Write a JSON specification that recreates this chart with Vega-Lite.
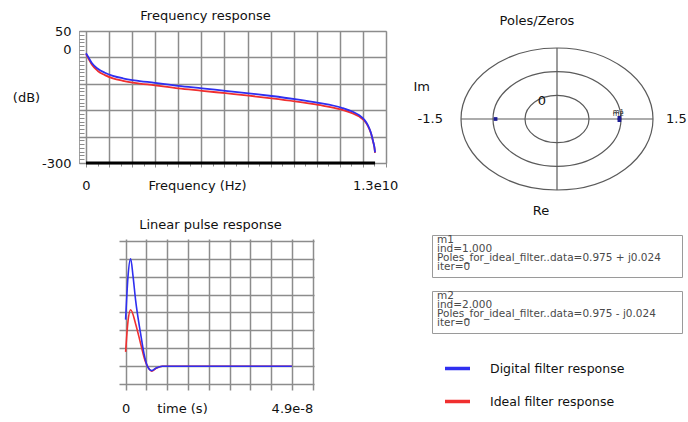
{
  "$schema": "https://vega.github.io/schema/vega-lite/v6.json",
  "background": "white",
  "padding": {"left": 11, "top": 9, "right": 0, "bottom": 0},
  "config": {
    "font": "DejaVu Sans",
    "view": {"stroke": null},
    "axis": {
      "labelFont": "DejaVu Sans", "labelFontSize": 13, "labelColor": "#111",
      "titleFont": "DejaVu Sans", "titleFontSize": 13, "titleFontWeight": "normal", "titleColor": "#111",
      "labelFlush": false, "labelOverlap": false,
      "gridColor": "#8c8c8c", "gridWidth": 1.5, "gridOpacity": 1,
      "tickColor": "#8c8c8c", "domain": false
    },
    "title": {"font": "DejaVu Sans", "fontSize": 13, "fontWeight": "normal", "color": "#111"}
  },
  "datasets": {
    "freqFloor": [
      {"frequency": 0, "magnitude": -300},
      {"frequency": 13000000000, "magnitude": -300}
    ],
    "freqDigital": [
      {"frequency": 0, "magnitude": -9, "series": "Digital filter response"},
      {"frequency": 135000000, "magnitude": -22.4, "series": "Digital filter response"},
      {"frequency": 270000000, "magnitude": -35.6, "series": "Digital filter response"},
      {"frequency": 530000000, "magnitude": -50.2, "series": "Digital filter response"},
      {"frequency": 850000000, "magnitude": -60.8, "series": "Digital filter response"},
      {"frequency": 1210000000, "magnitude": -68.8, "series": "Digital filter response"},
      {"frequency": 1660000000, "magnitude": -75.4, "series": "Digital filter response"},
      {"frequency": 2170000000, "magnitude": -80.7, "series": "Digital filter response"},
      {"frequency": 3100000000, "magnitude": -87.3, "series": "Digital filter response"},
      {"frequency": 4150000000, "magnitude": -95.3, "series": "Digital filter response"},
      {"frequency": 5220000000, "magnitude": -101.9, "series": "Digital filter response"},
      {"frequency": 6270000000, "magnitude": -108.6, "series": "Digital filter response"},
      {"frequency": 7320000000, "magnitude": -115.2, "series": "Digital filter response"},
      {"frequency": 8350000000, "magnitude": -122.3, "series": "Digital filter response"},
      {"frequency": 9400000000, "magnitude": -130.6, "series": "Digital filter response"},
      {"frequency": 10450000000, "magnitude": -140.4, "series": "Digital filter response"},
      {"frequency": 11500000000, "magnitude": -153.6, "series": "Digital filter response"},
      {"frequency": 12000000000, "magnitude": -164.2, "series": "Digital filter response"},
      {"frequency": 12290000000, "magnitude": -173.5, "series": "Digital filter response"},
      {"frequency": 12520000000, "magnitude": -185.5, "series": "Digital filter response"},
      {"frequency": 12680000000, "magnitude": -200, "series": "Digital filter response"},
      {"frequency": 12820000000, "magnitude": -221, "series": "Digital filter response"},
      {"frequency": 12910000000, "magnitude": -242, "series": "Digital filter response"},
      {"frequency": 12970000000, "magnitude": -258, "series": "Digital filter response"},
      {"frequency": 13000000000, "magnitude": -272, "series": "Digital filter response"}
    ],
    "freqIdeal": [
      {"frequency": 0, "magnitude": -11, "series": "Ideal filter response"},
      {"frequency": 135000000, "magnitude": -25.5, "series": "Ideal filter response"},
      {"frequency": 270000000, "magnitude": -39.5, "series": "Ideal filter response"},
      {"frequency": 530000000, "magnitude": -56, "series": "Ideal filter response"},
      {"frequency": 850000000, "magnitude": -67, "series": "Ideal filter response"},
      {"frequency": 1210000000, "magnitude": -75.5, "series": "Ideal filter response"},
      {"frequency": 1660000000, "magnitude": -82, "series": "Ideal filter response"},
      {"frequency": 2170000000, "magnitude": -87.5, "series": "Ideal filter response"},
      {"frequency": 3100000000, "magnitude": -94, "series": "Ideal filter response"},
      {"frequency": 4150000000, "magnitude": -102, "series": "Ideal filter response"},
      {"frequency": 5220000000, "magnitude": -108.5, "series": "Ideal filter response"},
      {"frequency": 6270000000, "magnitude": -115, "series": "Ideal filter response"},
      {"frequency": 7320000000, "magnitude": -121.5, "series": "Ideal filter response"},
      {"frequency": 8350000000, "magnitude": -128.5, "series": "Ideal filter response"},
      {"frequency": 9400000000, "magnitude": -136.5, "series": "Ideal filter response"},
      {"frequency": 10450000000, "magnitude": -146, "series": "Ideal filter response"},
      {"frequency": 11500000000, "magnitude": -158.5, "series": "Ideal filter response"},
      {"frequency": 12000000000, "magnitude": -168.5, "series": "Ideal filter response"},
      {"frequency": 12290000000, "magnitude": -177, "series": "Ideal filter response"},
      {"frequency": 12520000000, "magnitude": -188, "series": "Ideal filter response"},
      {"frequency": 12680000000, "magnitude": -202, "series": "Ideal filter response"},
      {"frequency": 12820000000, "magnitude": -222, "series": "Ideal filter response"},
      {"frequency": 12910000000, "magnitude": -243, "series": "Ideal filter response"},
      {"frequency": 12970000000, "magnitude": -259, "series": "Ideal filter response"},
      {"frequency": 13000000000, "magnitude": -273, "series": "Ideal filter response"}
    ],
    "pulseDigital": [
      {"time": 0, "response": 2.6, "series": "Digital filter response"},
      {"time": 7e-10, "response": 5.0, "series": "Digital filter response"},
      {"time": 1.48e-9, "response": 6.0, "series": "Digital filter response"},
      {"time": 2.2e-9, "response": 5.0, "series": "Digital filter response"},
      {"time": 2.95e-9, "response": 3.67, "series": "Digital filter response"},
      {"time": 4.43e-9, "response": 1.8, "series": "Digital filter response"},
      {"time": 5.43e-9, "response": 0.69, "series": "Digital filter response"},
      {"time": 6.41e-9, "response": 0.0, "series": "Digital filter response"},
      {"time": 7.68e-9, "response": -0.25, "series": "Digital filter response"},
      {"time": 9.0e-9, "response": -0.1, "series": "Digital filter response"},
      {"time": 1.08e-8, "response": 0, "series": "Digital filter response"},
      {"time": 4.9e-8, "response": 0, "series": "Digital filter response"}
    ],
    "pulseIdeal": [
      {"time": 0, "response": 0.8, "series": "Ideal filter response"},
      {"time": 7e-10, "response": 2.5, "series": "Ideal filter response"},
      {"time": 1.48e-9, "response": 3.15, "series": "Ideal filter response"},
      {"time": 2.95e-9, "response": 2.36, "series": "Ideal filter response"},
      {"time": 4.43e-9, "response": 1.25, "series": "Ideal filter response"},
      {"time": 5.73e-9, "response": 0.31, "series": "Ideal filter response"},
      {"time": 6.91e-9, "response": -0.15, "series": "Ideal filter response"},
      {"time": 7.68e-9, "response": -0.28, "series": "Ideal filter response"},
      {"time": 9.0e-9, "response": -0.12, "series": "Ideal filter response"},
      {"time": 1.08e-8, "response": 0, "series": "Ideal filter response"},
      {"time": 4.9e-8, "response": 0, "series": "Ideal filter response"}
    ],
    "rings": [
      {"radius": 0.5}, {"radius": 1.0}, {"radius": 1.5}
    ],
    "origin": [
      {"re": 0, "im": 0, "lo": -1.5, "hi": 1.5}
    ],
    "roots": [
      {"re": 0.975, "im": 0.024, "marker": "m1"},
      {"re": 0.975, "im": -0.024, "marker": "m2"},
      {"re": -0.96, "im": 0, "marker": ""}
    ],
    "markers": [
      {"marker": "m1", "line": 1, "text": "m1"},
      {"marker": "m1", "line": 2, "text": "ind=1.000"},
      {"marker": "m1", "line": 3, "text": "Poles_for_ideal_filter..data=0.975 + j0.024"},
      {"marker": "m1", "line": 4, "text": "iter=0"},
      {"marker": "m2", "line": 1, "text": "m2"},
      {"marker": "m2", "line": 2, "text": "ind=2.000"},
      {"marker": "m2", "line": 3, "text": "Poles_for_ideal_filter..data=0.975 - j0.024"},
      {"marker": "m2", "line": 4, "text": "iter=0"}
    ]
  },
  "resolve": {"scale": {"color": "shared"}, "legend": {"color": "shared"}},
  "spacing": 14,
  "hconcat": [
    {
      "spacing": 26,
      "vconcat": [
        {
          "width": 307,
          "height": 132,
          "view": {"stroke": "#a0a0a0", "strokeWidth": 1},
          "title": {"text": "Frequency response", "frame": "group", "anchor": "middle", "dx": -27, "offset": 2},
          "resolve": {"axis": {"x": "independent", "y": "independent"}},
          "layer": [
            {
              "data": {"name": "freqFloor"},
              "mark": {"type": "line", "color": "#000000", "strokeWidth": 3.2},
              "encoding": {
                "x": {
                  "field": "frequency", "type": "quantitative",
                  "scale": {"domain": [-315000000, 13491400000], "nice": false, "zero": false},
                  "axis": {
                    "orient": "bottom",
                    "values": [0, 1037800000, 2075600000, 3113400000, 4151200000, 5189000000, 6226800000, 7264600000, 8302400000, 9340200000, 10378000000, 11415800000, 12453600000, 13491400000],
                    "grid": true, "labels": false, "ticks": true, "tickSize": 4, "title": null
                  }
                },
                "y": {
                  "field": "magnitude", "type": "quantitative",
                  "scale": {"domain": [-300, 50], "nice": false, "zero": false},
                  "axis": {
                    "orient": "left",
                    "values": [50, -20, -90, -160, -230, -300],
                    "grid": true, "labels": false, "ticks": false, "title": null
                  }
                }
              }
            },
            {
              "data": {"name": "freqIdeal"},
              "mark": {"type": "line", "strokeWidth": 1.8, "interpolate": "monotone"},
              "encoding": {
                "x": {
                  "field": "frequency", "type": "quantitative",
                  "axis": {
                    "orient": "bottom",
                    "values": [0, 518900000, 1037800000, 1556700000, 2075600000, 2594500000, 3113400000, 3632300000, 4151200000, 4670100000, 5189000000, 5707900000, 6226800000, 6745700000, 7264600000, 7783500000, 8302400000, 8821300000, 9340200000, 9859100000, 10378000000, 10896900000, 11415800000, 11934700000, 12453600000, 12972500000, 13491400000],
                    "grid": false, "labels": false, "ticks": true, "tickSize": 3, "title": null
                  }
                },
                "y": {
                  "field": "magnitude", "type": "quantitative",
                  "axis": {
                    "orient": "left",
                    "values": [50, 40, 30, 20, 10, 0, -10, -20, -30, -40, -50, -60, -70, -80, -90, -100, -110, -120, -130, -140, -150, -160, -170, -180, -190, -200, -210, -220, -230, -240, -250, -260, -270, -280, -290, -300],
                    "grid": false, "labels": false, "ticks": true, "tickSize": -5, "title": null
                  }
                },
                "color": {
                  "field": "series", "type": "nominal",
                  "scale": {"domain": ["Digital filter response", "Ideal filter response"], "range": ["#2f2ff0", "#f02f2f"]}
                }
              }
            },
            {
              "data": {"name": "freqDigital"},
              "mark": {"type": "line", "strokeWidth": 1.8, "interpolate": "monotone"},
              "encoding": {
                "x": {
                  "field": "frequency", "type": "quantitative",
                  "axis": {
                    "orient": "bottom",
                    "values": [0, 13000000000],
                    "labelExpr": "datum.value == 0 ? '0' : '1.3e10'",
                    "grid": false, "ticks": false, "labelPadding": 16,
                    "title": "Frequency (Hz)", "titleX": 118, "titleY": 16,
                    "titleAlign": "center", "titleBaseline": "top"
                  }
                },
                "y": {
                  "field": "magnitude", "type": "quantitative",
                  "axis": {
                    "orient": "left",
                    "values": [50, 0, -300],
                    "labelExpr": "datum.value == -300 ? '-300' : datum.label",
                    "grid": false, "ticks": false, "labelPadding": 8,
                    "title": "(dB)", "titleAngle": 0, "titleX": -53, "titleY": 66,
                    "titleAlign": "center", "titleBaseline": "middle"
                  }
                },
                "color": {
                  "field": "series", "type": "nominal",
                  "scale": {"domain": ["Digital filter response", "Ideal filter response"], "range": ["#2f2ff0", "#f02f2f"]},
                  "legend": {
                    "orient": "none", "legendX": 364, "legendY": 323,
                    "title": null, "padding": 0,
                    "symbolType": "stroke", "symbolSize": 625, "symbolStrokeWidth": 3.5,
                    "labelFont": "DejaVu Sans", "labelFontSize": 12.5, "labelColor": "#111",
                    "labelOffset": 18, "rowPadding": 11
                  }
                }
              }
            }
          ]
        },
        {
          "spacing": 0,
          "hconcat": [
            {
              "width": 40,
              "height": 10,
              "data": {"values": []},
              "mark": "point"
            },
            {
              "width": 195,
              "height": 151,
              "title": {"text": "Linear pulse response", "frame": "group", "anchor": "middle", "dx": -6, "offset": 7},
              "resolve": {"axis": {"x": "independent", "y": "independent"}},
              "layer": [
                {
                  "data": {"name": "pulseIdeal"},
                  "mark": {"type": "line", "strokeWidth": 1.6, "interpolate": "monotone"},
                  "encoding": {
                    "x": {
                      "field": "time", "type": "quantitative",
                      "scale": {"domain": [-1.95e-9, 5.55e-8], "nice": false, "zero": false},
                      "axis": {
                        "orient": "bottom",
                        "values": [0, 4.9e-8],
                        "labelExpr": "datum.value == 0 ? '0' : '4.9e-8'",
                        "grid": false, "ticks": false, "labelPadding": 12,
                        "title": "time (s)", "titleX": 63, "titleY": 12,
                        "titleAlign": "center", "titleBaseline": "top"
                      }
                    },
                    "y": {
                      "field": "response", "type": "quantitative",
                      "scale": {"domain": [-1.33, 7.1], "nice": false, "zero": false},
                      "axis": null
                    },
                    "color": {
                      "field": "series", "type": "nominal",
                      "scale": {"domain": ["Digital filter response", "Ideal filter response"], "range": ["#2f2ff0", "#f02f2f"]}
                    }
                  }
                },
                {
                  "data": {"name": "pulseDigital"},
                  "mark": {"type": "line", "strokeWidth": 1.6, "interpolate": "monotone"},
                  "encoding": {
                    "x": {
                      "field": "time", "type": "quantitative",
                      "axis": {
                        "orient": "bottom",
                        "values": [0, 6.125e-9, 1.225e-8, 1.8375e-8, 2.45e-8, 3.0625e-8, 3.675e-8, 4.2875e-8, 4.9e-8, 5.5125e-8],
                        "grid": true, "labels": false, "ticks": false, "title": null
                      }
                    },
                    "y": {
                      "field": "response", "type": "quantitative",
                      "axis": {
                        "orient": "left",
                        "values": [-1, 0, 1, 2, 3, 4, 5, 6, 7],
                        "grid": true, "labels": false, "ticks": false, "title": null,
                        "minExtent": 0, "maxExtent": 0
                      }
                    },
                    "color": {
                      "field": "series", "type": "nominal",
                      "scale": {"domain": ["Digital filter response", "Ideal filter response"], "range": ["#2f2ff0", "#f02f2f"]}
                    }
                  }
                }
              ]
            }
          ]
        }
      ]
    },
    {
      "spacing": 45,
      "bounds": "flush",
      "vconcat": [
        {
          "width": 250,
          "height": 159,
          "title": {"text": "Poles/Zeros", "frame": "group", "anchor": "middle", "dx": -20, "offset": 3},
          "layer": [
            {
              "data": {"name": "rings"},
              "mark": {
                "type": "point",
                "shape": "M-1,0A1,0.7396,0,1,1,1,0A1,0.7396,0,1,1,-1,0Z",
                "filled": false, "color": "#5a5a5a", "strokeWidth": 1.2, "opacity": 1
              },
              "encoding": {
                "x": {
                  "datum": 0, "type": "quantitative",
                  "scale": {"domain": [-1.953, 1.953], "nice": false, "zero": false},
                  "axis": null
                },
                "y": {
                  "datum": 0, "type": "quantitative",
                  "scale": {"domain": [-1.5, 1.859], "nice": false, "zero": false},
                  "axis": null
                },
                "size": {
                  "field": "radius", "type": "quantitative",
                  "scale": {"type": "pow", "exponent": 2, "domain": [0, 1.5], "range": [0, 36864]},
                  "legend": null
                }
              }
            },
            {
              "data": {"name": "origin"},
              "mark": {"type": "rule", "color": "#5a5a5a", "strokeWidth": 1.2},
              "encoding": {
                "y": {"field": "im", "type": "quantitative", "axis": null},
                "x": {"field": "lo", "type": "quantitative", "axis": null},
                "x2": {"field": "hi"}
              }
            },
            {
              "data": {"name": "origin"},
              "mark": {"type": "rule", "color": "#5a5a5a", "strokeWidth": 1.2},
              "encoding": {
                "x": {"field": "re", "type": "quantitative", "axis": null},
                "y": {"field": "lo", "type": "quantitative", "axis": null},
                "y2": {"field": "hi"}
              }
            },
            {
              "data": {"name": "roots"},
              "mark": {"type": "square", "filled": true, "color": "#1c1c94", "size": 14, "opacity": 1},
              "encoding": {
                "x": {"field": "re", "type": "quantitative", "axis": null},
                "y": {"field": "im", "type": "quantitative", "axis": null}
              }
            },
            {
              "data": {"name": "roots"},
              "mark": {"type": "text", "fontSize": 7, "color": "#333", "dy": -6, "dx": -1},
              "encoding": {
                "x": {"field": "re", "type": "quantitative", "axis": null},
                "y": {"field": "im", "type": "quantitative", "axis": null},
                "text": {"field": "marker", "type": "nominal"}
              }
            },
            {
              "data": {"values": [{"re": -1.5, "im": 0, "label": "-1.5"}]},
              "mark": {"type": "text", "align": "right", "baseline": "middle", "fontSize": 13, "color": "#111", "dx": -18},
              "encoding": {
                "x": {"field": "re", "type": "quantitative", "axis": null},
                "y": {"field": "im", "type": "quantitative", "axis": null},
                "text": {"field": "label", "type": "nominal"}
              }
            },
            {
              "data": {"values": [{"re": -1.5, "im": 0, "label": "Im"}]},
              "mark": {"type": "text", "align": "right", "baseline": "middle", "fontSize": 13, "color": "#111", "dx": -31, "dy": -32},
              "encoding": {
                "x": {"field": "re", "type": "quantitative", "axis": null},
                "y": {"field": "im", "type": "quantitative", "axis": null},
                "text": {"field": "label", "type": "nominal"}
              }
            },
            {
              "data": {"values": [{"re": 1.5, "im": 0, "label": "1.5"}]},
              "mark": {"type": "text", "align": "left", "baseline": "middle", "fontSize": 13, "color": "#111", "dx": 13},
              "encoding": {
                "x": {"field": "re", "type": "quantitative", "axis": null},
                "y": {"field": "im", "type": "quantitative", "axis": null},
                "text": {"field": "label", "type": "nominal"}
              }
            },
            {
              "data": {"values": [{"re": 0, "im": 0, "label": "0"}]},
              "mark": {"type": "text", "align": "center", "baseline": "middle", "fontSize": 13, "color": "#111", "dx": -15, "dy": -18},
              "encoding": {
                "x": {"field": "re", "type": "quantitative", "axis": null},
                "y": {"field": "im", "type": "quantitative", "axis": null},
                "text": {"field": "label", "type": "nominal"}
              }
            },
            {
              "data": {"values": [{"re": 0, "im": -1.5, "label": "Re"}]},
              "mark": {"type": "text", "align": "center", "baseline": "middle", "fontSize": 13, "color": "#111", "dx": -16, "dy": 21},
              "encoding": {
                "x": {"field": "re", "type": "quantitative", "axis": null},
                "y": {"field": "im", "type": "quantitative", "axis": null},
                "text": {"field": "label", "type": "nominal"}
              }
            }
          ]
        },
        {
          "data": {"name": "markers"},
          "facet": {"row": {"field": "marker", "type": "nominal", "header": null}},
          "spacing": 12,
          "spec": {
            "width": 250,
            "height": 42,
            "view": {"stroke": "#9a9a9a", "strokeWidth": 1},
            "mark": {"type": "text", "align": "left", "baseline": "middle", "fontSize": 10.5, "color": "#4a4a4a", "dx": 5},
            "encoding": {
              "x": {"datum": 0, "type": "quantitative", "scale": {"domain": [0, 1]}, "axis": null},
              "y": {
                "field": "line", "type": "quantitative",
                "scale": {"domain": [0.389, 5.056], "reverse": true, "nice": false, "zero": false},
                "axis": null
              },
              "text": {"field": "text", "type": "nominal"}
            }
          }
        }
      ]
    }
  ]
}
